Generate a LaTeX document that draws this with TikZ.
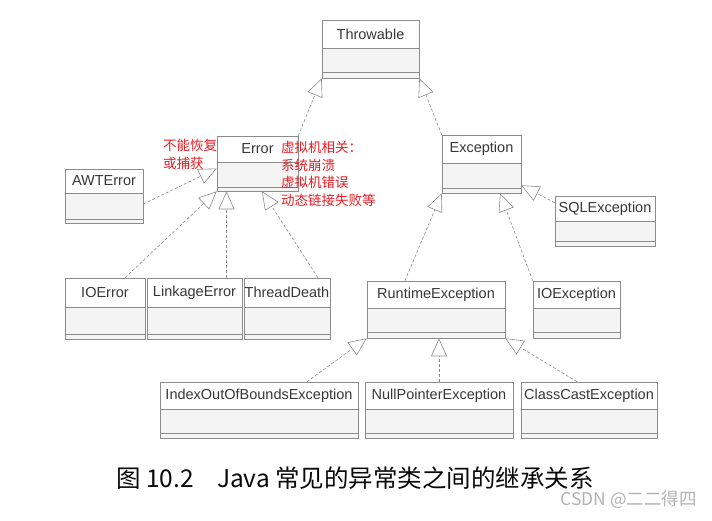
\documentclass[tikz,border=0pt]{standalone}
\usepackage{fontspec}
\setmainfont{Liberation Sans}
\newfontfamily\cjk{Noto Sans CJK SC}
\usetikzlibrary{arrows.meta,fit,calc}
\definecolor{boxline}{gray}{0.55}
\definecolor{boxfill}{gray}{0.955}
\definecolor{namec}{gray}{0.22}
\definecolor{redc}{RGB}{236,28,36}
\definecolor{lnk}{gray}{0.55}
\tikzset{
  clsbox/.style={draw=boxline, line width=0.6pt, inner sep=0pt, rectangle},
  boxrule/.style={draw=boxline, line width=0.6pt},
  clsname/.style={text=namec, font=\fontsize{14.5}{17}\selectfont, inner sep=0pt},
  inh/.style={draw=lnk, line width=0.6pt, dash pattern=on 3pt off 2pt,
    -{Triangle[open, length=18pt, width=16pt, line width=0.6pt]}},
  redtxt/.style={text=redc, font=\cjk\fontsize{13.5}{17.5}\selectfont, align=left, inner sep=0pt, anchor=north west},
}
% #1 name, #2 text, #3 x1, #4 x2, #5 ytop, #6 yname, #7 yline, #8 ybottom
\newcommand\umlcls[8]{%
  \fill[boxfill] (#3,#6) rectangle (#4,#8);
  \node[clsbox, fit={(#3,#5) (#4,#8)}] (#1) {};
  \draw[boxrule] (#3,#6) -- (#4,#6) (#3,#7) -- (#4,#7);
  \node[clsname] (#1-t) at ({(#3+#4)/2},{(#5+#6)/2}) {#2};
}
\begin{document}
\begin{tikzpicture}[x=1pt,y=-1pt]
\fill[white] (0,0) rectangle (712,520);
\useasboundingbox (0,0) rectangle (712,520);

\umlcls{thr}{Throwable}{322}{419}{20}{48}{72}{78}
\umlcls{err}{Error}{217}{298}{136}{162}{187}{191}
\umlcls{awt}{AWTError}{65}{143}{169}{193}{219}{223}
\umlcls{exc}{Exception}{442}{521}{135}{163}{188}{193}
\umlcls{sql}{SQLException}{555}{655}{196}{221}{241}{246}
\umlcls{ioe}{IOError}{65}{145}{278}{307}{334}{339}
\umlcls{lnk}{LinkageError}{147}{242}{278}{307}{334}{339}
\umlcls{thd}{ThreadDeath}{244}{330}{278}{307}{334}{339}
\umlcls{rt}{RuntimeException}{367}{505}{281}{308}{332}{338}
\umlcls{ioex}{IOException}{533}{620}{281}{308}{332}{338}
\umlcls{idx}{IndexOutOfBoundsException}{160}{358}{382}{409}{433}{438}
\umlcls{np}{NullPointerException}{365}{513}{382}{409}{433}{438}
\umlcls{cc}{ClassCastException}{521}{657}{382}{409}{433}{438}

% inheritance connectors
\draw[inh] (err.north east) -- (thr.south west);
\draw[inh] (exc.north west) -- (thr.south east);
\draw[inh] ([yshift=-8pt]awt.east) -- ([yshift=-5pt]err.west);
\draw[inh] ([xshift=20pt]ioe.north) -- (err.south west);
\coordinate (lkc) at ([xshift=32pt]lnk.north);
\draw[inh] (lkc) -- (lkc |- err.south);
\draw[inh] ([xshift=31pt]thd.north) -- ([xshift=4.5pt]err.south);
\draw[inh] ([xshift=-31pt]rt.north) -- (exc.south west);
\draw[inh] (ioex.north west) -- ([xshift=18.5pt]exc.south);
\draw[inh] ([yshift=-7pt]sql.north west) -- ([yshift=8pt]exc.south east);
\draw[inh] ([xshift=48pt]idx.north) -- (rt.south west);
\draw[inh] (np.north) -- (np.north |- rt.south);
\draw[inh] ([xshift=-12pt]cc.north) -- (rt.south east);

% red annotations
\node[redtxt] (nr) at (163,139) {不能恢复\\或捕获};
\node[redtxt] (vm) at (281,141) {虚拟机相关：\\系统崩溃\\虚拟机错误\\动态链接失败等};

% caption
\node[anchor=west, inner sep=0pt, text={gray!8!black}, font=\cjk\fontsize{24.5}{27}\selectfont] (cap) at (116,478)
  {图 10.2\hspace{0.95em}Java 常见的异常类之间的继承关系};
\node[anchor=east, inner sep=0pt, text=gray!60, font=\cjk\fontsize{17.5}{20}\selectfont] (wm) at (697,500)
  {CSDN @二二得四};
\end{tikzpicture}
\end{document}
